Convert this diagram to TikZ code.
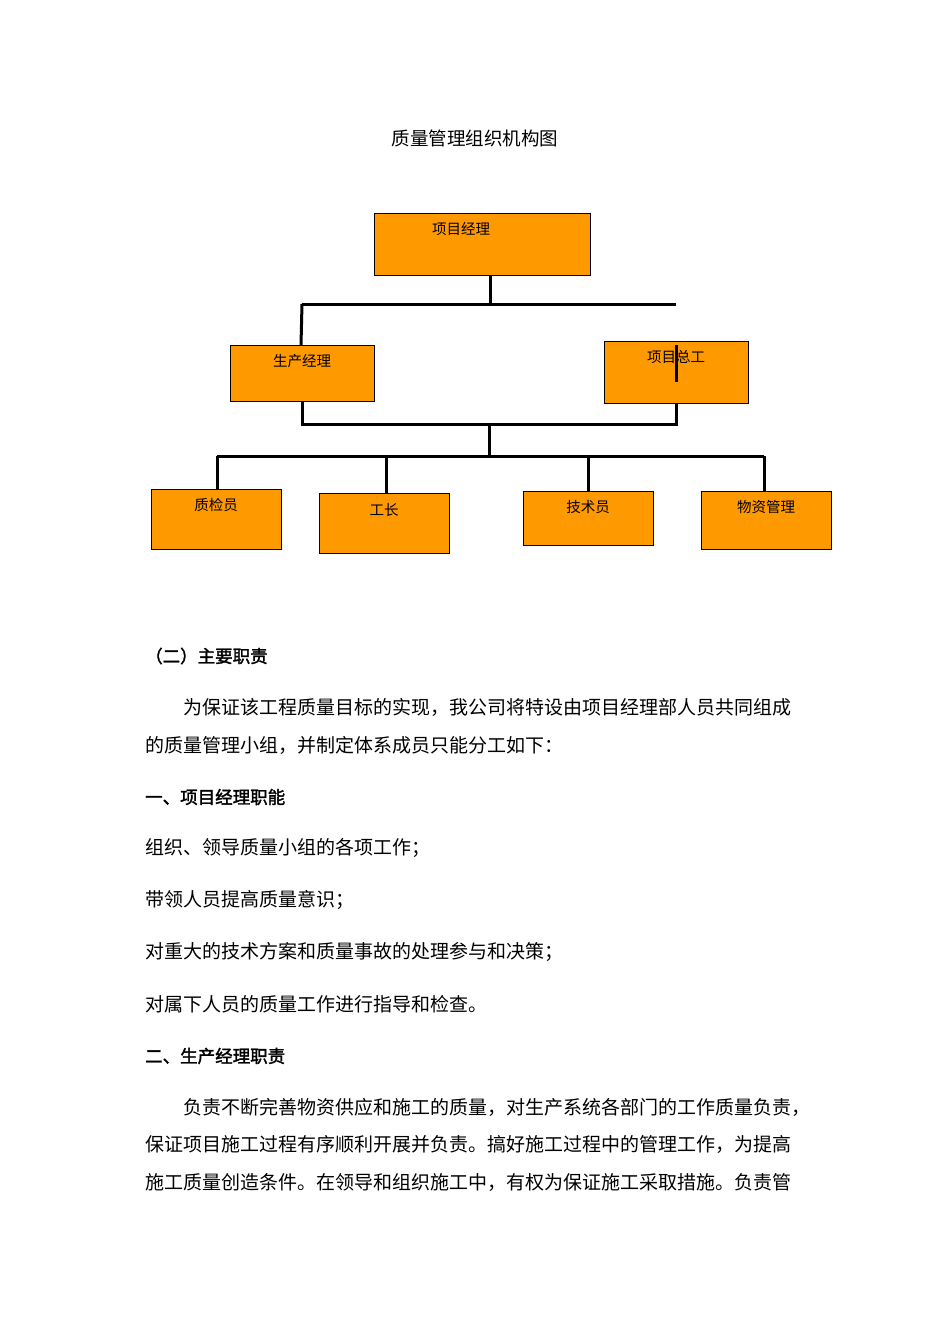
\documentclass[tikz,border=0pt]{standalone}
\usepackage{fontspec}
\newfontfamily\cjk{Noto Sans CJK SC}
\newfontfamily\cjkb[FakeBold=2]{Noto Sans CJK SC}
\begin{document}
\begin{tikzpicture}[x=1pt,y=-1pt,
  box/.style={draw,fill=orange!85!yellow,fill={rgb,255:red,255;green,153;blue,0},line width=0.8pt},
  lbl/.style={font=\cjk\fontsize{14.5}{16}\selectfont,inner sep=0pt},
  ln/.style={line width=3pt},
  txt/.style={anchor=west,inner sep=0pt,font=\cjk\fontsize{19}{22}\selectfont},
  btxt/.style={anchor=west,inner sep=0pt,font=\cjkb\fontsize{17.5}{22}\selectfont}]
\useasboundingbox[fill=white] (0,0) rectangle (950,1344);
\node[inner sep=0pt,font=\cjk\fontsize{18.5}{22}\selectfont] (title) at (475,138) {质量管理组织机构图};
% boxes
\draw[box] (374,213) rectangle (590,275); \node[lbl] (pm) at (461,229) {项目经理};
\draw[box] (230,345) rectangle (374,401); \node[lbl] (sc) at (302,361) {生产经理};
\draw[box] (604,341) rectangle (748,403); \node[lbl] (zg) at (676,357) {项目总工};
\draw[box] (151,489) rectangle (281,549); \node[lbl] (zj) at (216,505) {质检员};
\draw[box] (319,493) rectangle (449,553); \node[lbl] (gz) at (384,510) {工长};
\draw[box] (523,491) rectangle (653,545); \node[lbl] (js) at (588,507) {技术员};
\draw[box] (701,491) rectangle (831,549); \node[lbl] (wz) at (766,507) {物资管理};
% connectors
\coordinate (a1) at (490,275); \coordinate (a2) at (490,304);
\coordinate (b1) at (302,304); \coordinate (b2) at (676,304);
\coordinate (b3) at (301,345);
\draw[ln] (a1) -- (a2);
\draw[ln] (b1) -- (b2);
\draw[ln] (b1) -- (b3);
\coordinate (z1) at (676,345); \coordinate (z2) at (676,382);
\draw[ln] (z1) -- (z2);
\coordinate (c1) at (302,401); \coordinate (c2) at (302,424);
\coordinate (c3) at (676,424); \coordinate (c4) at (676,403);
\draw[ln] (c1) -- (c2) -- (c3) -- (c4);
\coordinate (d1) at (489,424); \coordinate (d2) at (489,456);
\draw[ln] (d1) -- (d2);
\coordinate (e1) at (217,456); \coordinate (e2) at (764,456);
\draw[ln] (e1) -- (e2);
\coordinate (f1) at (386,456); \coordinate (f2) at (588,456);
\draw[ln] (e1) -- (217,489);
\draw[ln] (f1) -- (386,493);
\draw[ln] (f2) -- (588,491);
\draw[ln] (e2) -- (764,491);
% text
\node[btxt] (t1) at (145,656) {（二）主要职责};
\node[txt] (t2) at (183,707) {为保证该工程质量目标的实现，我公司将特设由项目经理部人员共同组成};
\node[txt] (t3) at (145,745) {的质量管理小组，并制定体系成员只能分工如下：};
\node[btxt] (t4) at (145,797) {一、项目经理职能};
\node[txt] (t5) at (145,848) {组织、领导质量小组的各项工作；};
\node[txt] (t6) at (145,900) {带领人员提高质量意识；};
\node[txt] (t7) at (145,952) {对重大的技术方案和质量事故的处理参与和决策；};
\node[txt] (t8) at (145,1004) {对属下人员的质量工作进行指导和检查。};
\node[btxt] (t9) at (145,1056) {二、生产经理职责};
\node[txt] (t10) at (183,1107) {负责不断完善物资供应和施工的质量，对生产系统各部门的工作质量负责，};
\node[txt] (t11) at (145,1144) {保证项目施工过程有序顺利开展并负责。搞好施工过程中的管理工作，为提高};
\node[txt] (t12) at (145,1182) {施工质量创造条件。在领导和组织施工中，有权为保证施工采取措施。负责管};
\end{tikzpicture}
\end{document}
